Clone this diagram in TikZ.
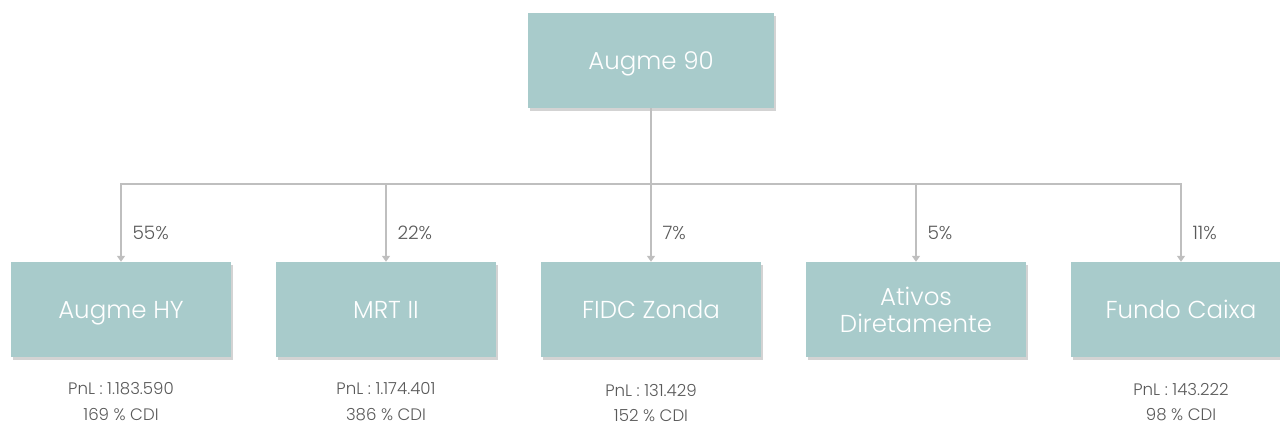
\documentclass[tikz,border=0pt]{standalone}
\usepackage{fontspec}
\setmainfont{Poppins Light}
\usetikzlibrary{positioning, arrows.meta, shadows}
\definecolor{fundfill}{HTML}{A8CBCB}
\definecolor{linkgray}{HTML}{BFBFBF}
\definecolor{infogray}{HTML}{595959}
\tikzset{
    node distance=265pt, % Distance between centres of the funds. Change if necessary.
    fund/.style={ % Sets the properties for each fund box
        fill=fundfill,
        text=white,
        minimum width=220pt,
        minimum height=95pt,
        text depth=0pt,
        font=\fontsize{24.5}{27}\selectfont,
        drop shadow={shadow xshift=1.5pt, shadow yshift=-3pt, opacity=0.35}
    },
    link/.style={ % Sets the properties for each connector
        draw=linkgray,
        line width=1.6pt,
        -{Triangle[width=8pt,length=6pt]}
    },
    pct/.style={ % Share written next to each arrow
        text=infogray,
        anchor=west,
        font=\fontsize{18.5}{20}\selectfont
    },
    info/.style={ % PnL and CDI lines below a box
        text=infogray,
        inner sep=0pt,
        font=\fontsize{16.6}{18}\selectfont
    }
}
\begin{document}
\begin{tikzpicture}[x=1pt, y=-1pt]
            \useasboundingbox (0,0) rectangle (1280,428);
            \node[fund, minimum width=246pt]      (augme)  at (651,60.5) {Augme 90};
            \node[fund]                           (hy)     at (121,309.5) {Augme HY};
            \node[fund, right of=hy]              (mrt)    {MRT II};
            \node[fund, right of=mrt]             (zonda)  {FIDC Zonda};
            \node[fund, right of=zonda, align=center] (ativos) {Ativos\\Diretamente};
            \node[fund, right of=ativos]          (caixa)  {Fundo Caixa};
            \coordinate (bus) at (651,184);
            \draw[link] (augme.south) -- (bus) -| (hy.north);
            \draw[link] (augme.south) -- (bus) -| (mrt.north);
            \draw[link] (augme.south) -- (zonda.north);
            \draw[link] (augme.south) -- (bus) -| (ativos.north);
            \draw[link] (augme.south) -- (bus) -| (caixa.north);
            \node[pct] (phy)     at ([xshift=8pt]hy.north |- 0,233)     {55\%};
            \node[pct] (pmrt)    at ([xshift=8pt]mrt.north |- 0,233)    {22\%};
            \node[pct] (pzonda)  at ([xshift=8pt]zonda.north |- 0,233)  {7\%};
            \node[pct] (pativos) at ([xshift=8pt]ativos.north |- 0,233) {5\%};
            \node[pct] (pcaixa)  at ([xshift=8pt]caixa.north |- 0,233)  {11\%};
            \node[info] (hyp)  at (hy |- 0,389)    {PnL : 1.183.590};
            \node[info] (hyc)  at (hy |- 0,415)    {169 \% CDI};
            \node[info] (mrtp) at (mrt |- 0,389)   {PnL : 1.174.401};
            \node[info] (mrtc) at (mrt |- 0,415)   {386 \% CDI};
            \node[info] (zonp) at (zonda |- 0,390) {PnL : 131.429};
            \node[info] (zonc) at (zonda |- 0,416) {152 \% CDI};
            \node[info] (caip) at (caixa |- 0,389) {PnL : 143.222};
            \node[info] (caic) at (caixa |- 0,415) {98 \% CDI};
\end{tikzpicture}
\end{document}
